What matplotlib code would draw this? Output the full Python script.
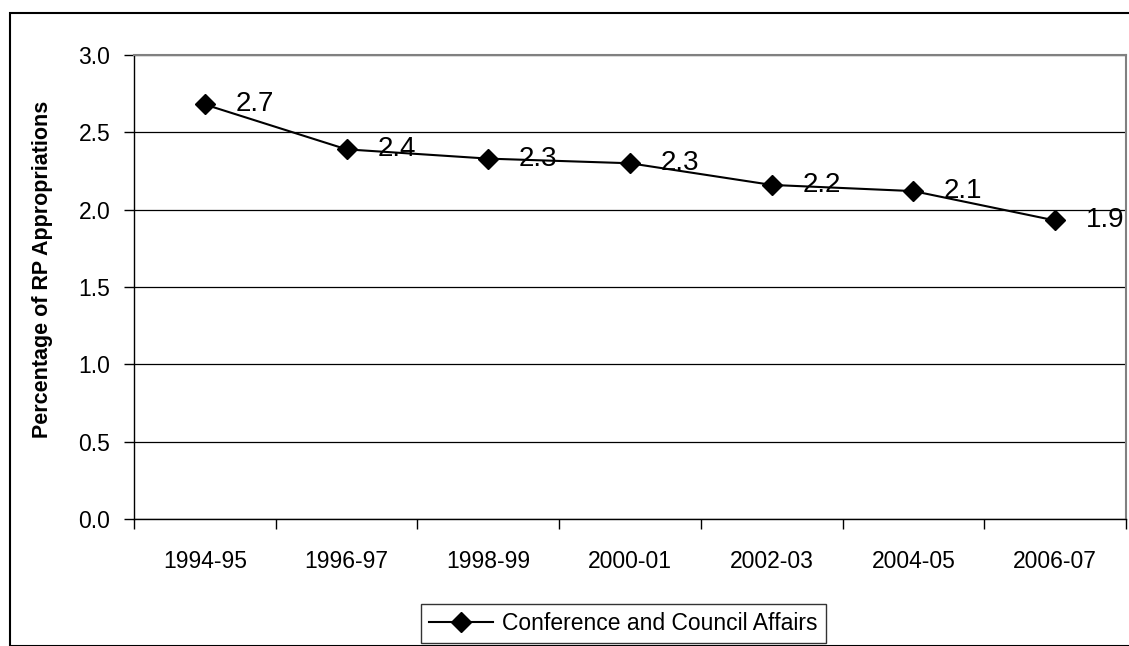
import matplotlib
matplotlib.use("Agg")
import matplotlib.pyplot as plt
from matplotlib.patches import Rectangle

plt.rcParams['font.family'] = ['Liberation Sans', 'DejaVu Sans']

years = ["1994-95", "1996-97", "1998-99", "2000-01", "2002-03", "2004-05", "2006-07"]
share = [2.68, 2.39, 2.33, 2.30, 2.16, 2.12, 1.93]
labels = ["2.7", "2.4", "2.3", "2.3", "2.2", "2.1", "1.9"]
yticks = [0.0, 0.5, 1.0, 1.5, 2.0, 2.5, 3.0]

fig = plt.figure(figsize=(11.29, 6.46), dpi=100)
ax = fig.add_axes([134 / 1129, 1 - 519 / 646, 992 / 1129, 464 / 646])

# outer chart border (right/bottom edges fall off the image)
fig.patches.append(Rectangle((10 / 1129, 0), 1.2, 1 - 13 / 646, transform=fig.transFigure,
                             fill=False, edgecolor='black', linewidth=1.5))

x = list(range(len(years)))
line, = ax.plot(x, share, color='black', linewidth=1.5, marker='D', markersize=10,
                markerfacecolor='black', markeredgecolor='black',
                label="Conference and Council Affairs", zorder=3)

for xi, yi, lab in zip(x, share, labels):
    ax.annotate(lab, (xi, yi), xytext=(22, 0), textcoords='offset points',
                ha='left', va='center', fontsize=20)

ax.set_xlim(-0.5, len(years) - 0.5)
ax.set_ylim(0, 3.0)
ax.set_yticks(yticks)
ax.set_yticklabels([f"{v:.1f}" for v in yticks])
ax.set_xticks(x)
ax.set_xticklabels(years)
ax.set_xticks([i - 0.5 for i in range(len(years) + 1)], minor=True)

ax.tick_params(axis='x', which='major', length=0, pad=22, labelsize=16.5)
ax.tick_params(axis='x', which='minor', length=7, direction='out', width=1)
ax.tick_params(axis='y', length=7, direction='out', width=1, pad=10, labelsize=16.5)

ax.grid(axis='y', color='black', linewidth=0.9)
ax.set_axisbelow(True)

for s in ['top', 'right']:
    ax.spines[s].set_color('#808080')
    ax.spines[s].set_linewidth(1.5)
for s in ['left', 'bottom']:
    ax.spines[s].set_color('black')
    ax.spines[s].set_linewidth(1)

ax.set_ylabel("Percentage of RP Appropriations", fontsize=15.5, fontweight='bold')
ax.yaxis.set_label_coords(-0.082, 0.537)

leg = fig.legend(handles=[line], loc='center', bbox_to_anchor=(623.5 / 1129, 1 - 623.5 / 646),
                 fontsize=16.5, frameon=True, fancybox=False, handlelength=2.8,
                 borderpad=0.35, handletextpad=0.4)
leg.get_frame().set_edgecolor('black')
leg.get_frame().set_linewidth(1)

fig.savefig("out.png", dpi=100)
